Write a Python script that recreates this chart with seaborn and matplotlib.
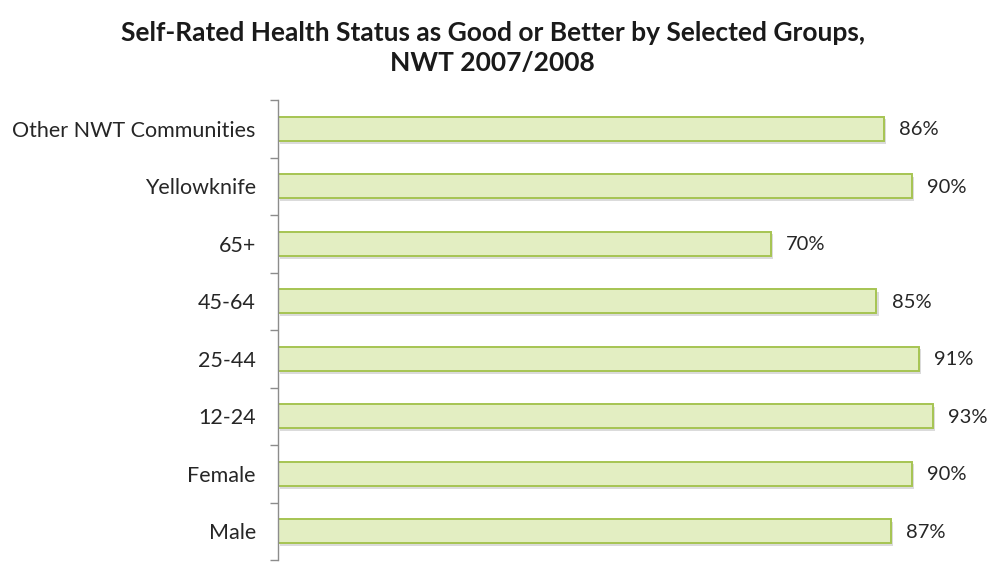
import matplotlib
matplotlib.use("Agg")
import matplotlib.pyplot as plt
import matplotlib.patheffects as pe
import seaborn as sns
import pandas as pd
import numpy as np

groups = ["Other NWT Communities", "Yellowknife", "65+", "45-64", "25-44",
          "12-24", "Female", "Male"]
percent = [86, 90, 70, 85, 91, 93, 90, 87]

sns.set_theme(style="white")
plt.rcParams["font.family"] = ["Lato", "DejaVu Sans"]

df = pd.DataFrame({"group": groups, "percent": percent})

fig = plt.figure(figsize=(9.91, 5.67), dpi=100)
ax = fig.add_axes([0.2805, 0.0123, 0.7105, 0.8113])

sns.barplot(data=df, y="group", x="percent", order=groups, orient="h",
            color="#e3eec2", edgecolor="#a6c452", linewidth=1.4,
            width=0.42, saturation=1, ax=ax)

# soft drop shadow under each bar
for patch in ax.patches:
    patch.set_path_effects([
        pe.SimplePatchShadow(offset=(1.5, -2), shadow_rgbFace="#9a9a9a", alpha=0.35),
        pe.Normal(),
    ])

for i, v in enumerate(percent):
    ax.text(v + 2.2, i + 0.02, f"{v}%", va="center", ha="left",
            fontsize=14.5, color="#262626")

ax.set_xlim(0, 100)
ax.set_ylim(len(groups) - 0.5, -0.5)
ax.set_xlabel("")
ax.set_ylabel("")
ax.set_xticks([])

for s in ["top", "right", "bottom"]:
    ax.spines[s].set_visible(False)
ax.spines["left"].set_color("#8c8c8c")
ax.spines["left"].set_linewidth(1.0)

ax.set_yticks(np.arange(-0.5, len(groups), 1.0), minor=True)
ax.tick_params(axis="y", which="minor", length=6, color="#8c8c8c",
               width=1.0, direction="out", left=True)
ax.tick_params(axis="y", which="major", length=0, pad=16,
               labelsize=15.5, labelcolor="#262626")

fig.suptitle("Self-Rated Health Status as Good or Better by Selected Groups,\nNWT 2007/2008",
             x=0.497, y=0.963, fontsize=19, fontweight="bold",
             color="#1a1a1a", linespacing=1.3)

fig.savefig("out.png", dpi=100, facecolor="white")
